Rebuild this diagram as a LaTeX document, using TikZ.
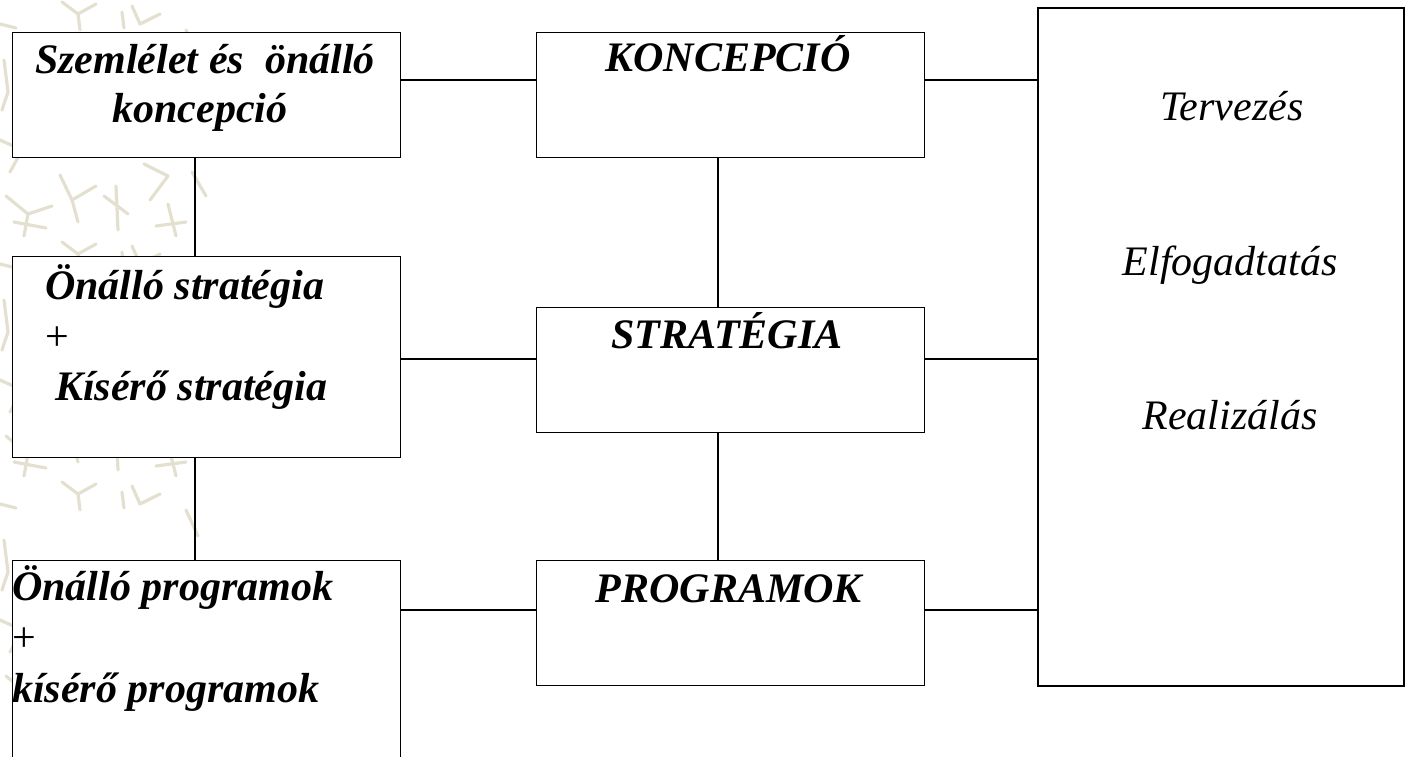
\documentclass[tikz,border=0pt]{standalone}
\usepackage{fontspec}
\setmainfont{Liberation Serif}
\begin{document}
\begin{tikzpicture}[x={(1pt,0)}, y={(0,-1pt)},
  box/.style={draw=black, fill=white, line width=1.4pt, inner sep=0pt},
  bigbox/.style={box, line width=1.8pt},
  link/.style={draw=black, line width=1.4pt},
  head/.style={inner sep=0pt, font=\fontsize{42}{50}\selectfont\bfseries\itshape},
  plain/.style={inner sep=0pt, font=\fontsize{42}{50}\selectfont\itshape},
  sign/.style={inner sep=0pt, font=\fontsize{42}{50}\selectfont},
  deco/.style={draw=decocol, line width=3.2pt, line cap=round, line join=round}]
\definecolor{decocol}{RGB}{228,224,208}
\useasboundingbox (0,0) rectangle (1405,757);
\clip (0,0) rectangle (1405,757);

% ornamental strip along the left edge, repeated down the page
\foreach \dy in {0,240,480} {
  \begin{scope}[yshift=-\dy pt]
    \draw[deco] (62,2) -- (78,14) -- (96,4);
    \draw[deco] (78,14) -- (80,30);
    \draw[deco] (132,6) -- (140,24) -- (160,14);
    \draw[deco] (122,12) -- (124,28);
    \draw[deco] (0,24) -- (16,28);
    \draw[deco] (4,60) -- (8,92) -- (2,110);
    \draw[deco] (0,140) -- (22,150) -- (10,172);
    \draw[deco] (6,196) -- (28,214) -- (52,206);
    \draw[deco] (28,214) -- (24,236);
    \draw[deco] (14,222) -- (46,228);
    \draw[deco] (60,175) -- (72,200) -- (96,186);
    \draw[deco] (72,200) -- (78,222);
    \draw[deco] (104,196) -- (128,214);
    \draw[deco] (116,186) -- (118,230);
    \draw[deco] (144,164) -- (168,176) -- (150,200);
    \draw[deco] (168,204) -- (176,236);
    \draw[deco] (156,226) -- (186,222);
    \draw[deco] (192,172) -- (206,196);
    \draw[deco] (186,30) -- (198,56);
  \end{scope}
}

% column and row positions of the connectors
\coordinate (colL) at (195,0);
\coordinate (colM) at (718,0);
\coordinate (rowA) at (0,80);
\coordinate (rowB) at (0,359);
\coordinate (rowC) at (0,610);

% left column
\node[box, anchor=north west, minimum width=388pt, minimum height=125pt] (sz) at (12,32) {};
\node[box, anchor=north west, minimum width=388pt, minimum height=201pt] (os) at (12,256) {};
\node[box, anchor=north west, minimum width=388pt, minimum height=240pt] (op) at (12,560) {};

% middle column
\node[box, anchor=north west, minimum width=388pt, minimum height=125pt] (ko) at (536,32) {};
\node[box, anchor=north west, minimum width=388pt, minimum height=125pt] (st) at (536,307) {};
\node[box, anchor=north west, minimum width=388pt, minimum height=125pt] (pr) at (536,560) {};

% right column
\node[bigbox, anchor=north west, minimum width=366pt, minimum height=678pt] (tr) at (1037,7) {};

% connectors
\draw[link] (sz.south -| colL) -- (os.north -| colL);
\draw[link] (os.south -| colL) -- (op.north -| colL);
\draw[link] (ko.south -| colM) -- (st.north -| colM);
\draw[link] (st.south -| colM) -- (pr.north -| colM);
\draw[link] (sz.east |- rowA) -- (ko.west |- rowA);
\draw[link] (ko.east |- rowA) -- (tr.west |- rowA);
\draw[link] (os.east |- rowB) -- (st.west |- rowB);
\draw[link] (st.east |- rowB) -- (tr.west |- rowB);
\draw[link] (op.east |- rowC) -- (pr.west |- rowC);
\draw[link] (pr.east |- rowC) -- (tr.west |- rowC);

% texts of the left column
\node[head, anchor=base] (sz1) at (205,74) {Szemlélet és\ \ önálló};
\node[head, anchor=base] (sz2) at (200,123) {koncepció};
\node[head, anchor=base west] (os1) at (45,299) {Önálló stratégia};
\node[sign, anchor=base west] (os2) at (45,350) {+};
\node[head, anchor=base west] (os3) at (55,400) {Kísérő stratégia};
\node[head, anchor=base west] (op1) at (12,600) {Önálló programok};
\node[sign, anchor=base west] (op2) at (12,651) {+};
\node[head, anchor=base west] (op3) at (12,702) {kísérő programok};

% texts of the middle column
\node[head, anchor=base] (ko1) at (728,72) {KONCEPCIÓ};
\node[head, anchor=base] (st1) at (727,348) {STRATÉGIA};
\node[head, anchor=base] (pr1) at (729,602) {PROGRAMOK};

% texts of the right column
\node[plain, anchor=base] (tr1) at (1232,121) {Tervezés};
\node[plain, anchor=base] (tr2) at (1230,275) {Elfogadtatás};
\node[plain, anchor=base] (tr3) at (1230,429) {Realizálás};
\end{tikzpicture}
\end{document}
